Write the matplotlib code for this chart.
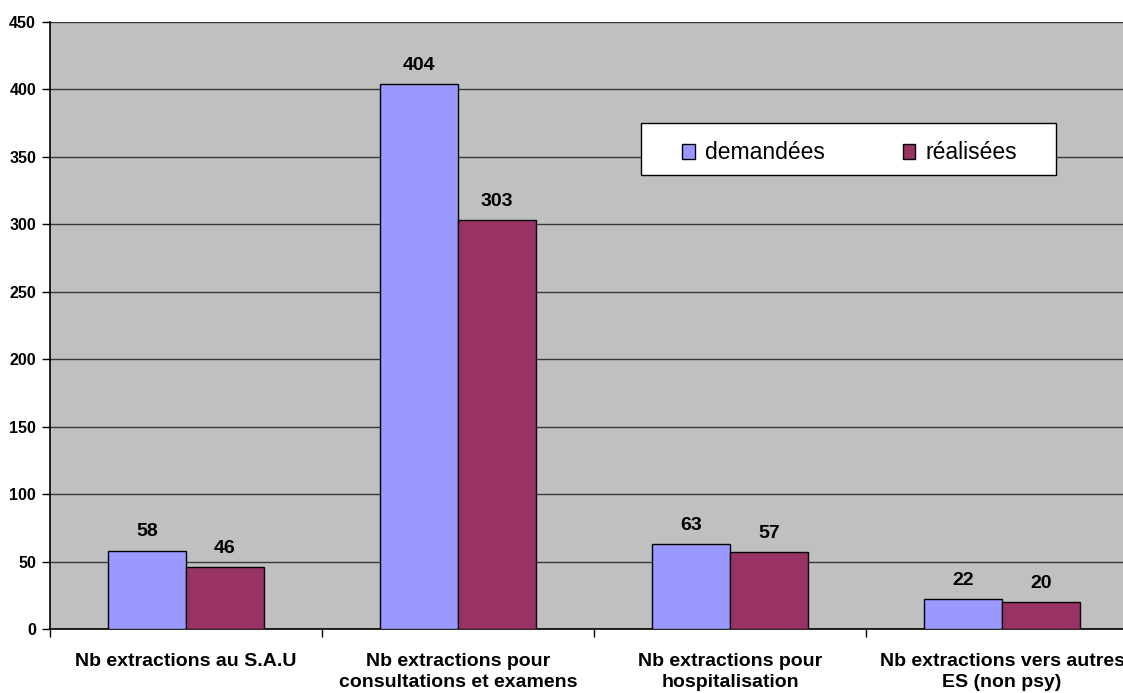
import matplotlib
matplotlib.use("Agg")
import matplotlib.pyplot as plt
from matplotlib.patches import Rectangle
import numpy as np

plt.rcParams['font.family'] = ['Liberation Sans', 'DejaVu Sans']

categories = ["Nb extractions au S.A.U",
              "Nb extractions pour\nconsultations et examens",
              "Nb extractions pour\nhospitalisation",
              "Nb extractions vers autres\nES (non psy)"]
demandees = [58, 404, 63, 22]
realisees = [46, 303, 57, 20]
series_names = ["demandées", "réalisées"]
yticks = list(range(0, 451, 50))

fig = plt.figure(figsize=(11.23, 6.93), dpi=100)
fig.patch.set_facecolor("white")
ax = fig.add_axes([50/1123, 1-629/693, 1088/1123, 607/693])
ax.set_facecolor("#C0C0C0")

x = np.arange(len(categories))
w = 78/272
b1 = ax.bar(x - w/2, demandees, w, color="#9999FF", edgecolor="black", linewidth=1.0, label=series_names[0], zorder=3)
b2 = ax.bar(x + w/2, realisees, w, color="#993366", edgecolor="black", linewidth=1.0, label=series_names[1], zorder=3)

for bars, vals in ((b1, demandees), (b2, realisees)):
    for r, v in zip(bars, vals):
        ax.annotate(str(v), (r.get_x() + r.get_width()/2, v), xytext=(0, 7.5),
                    textcoords="offset points", ha="center", va="bottom",
                    fontsize=14, fontweight="bold", zorder=4)

ax.set_xlim(-0.5, 3.5)
ax.set_ylim(0, 450)
ax.set_yticks(yticks)
ax.yaxis.grid(True, color="#383838", linewidth=1.0, zorder=1)
ax.set_axisbelow(True)

ax.set_xticks(np.arange(-0.5, 4.0, 1.0), minor=False)
ax.set_xticklabels([])
ax.set_xticks(x, minor=True)
ax.set_xticklabels(categories, minor=True, fontsize=14, fontweight="bold")
for lab in ax.get_xticklabels(minor=True):
    lab.set_linespacing(1.3)
ax.tick_params(axis="x", which="minor", length=0, pad=17)
ax.tick_params(axis="x", which="major", length=6, width=1, direction="out", color="black")
ax.tick_params(axis="y", length=6, width=1, direction="out", labelsize=11.5, pad=4)
for lab in ax.get_yticklabels():
    lab.set_fontweight("bold")

for s in ("top", "right"):
    ax.spines[s].set_visible(False)
ax.spines["left"].set_color("black")
ax.spines["bottom"].set_color("black")
ax.spines["left"].set_linewidth(1.2)
ax.spines["bottom"].set_linewidth(1.2)

# legend box
bx0, by0, bw, bh = 0.543, 0.748, 0.382, 0.086
ax.add_patch(Rectangle((bx0, by0), bw, bh, transform=ax.transAxes, facecolor="white",
                       edgecolor="black", linewidth=1.0, zorder=5))
leg = ax.legend(loc="center", bbox_to_anchor=(bx0 + bw/2 + 0.001, by0 + bh/2 - 4/607),
                ncol=2, frameon=False, fontsize=16.5, handlelength=0.55,
                handleheight=0.6, handletextpad=0.45, borderaxespad=0, columnspacing=3.4,
                borderpad=0)
leg.set_zorder(6)

fig.savefig("out.png", dpi=100)
